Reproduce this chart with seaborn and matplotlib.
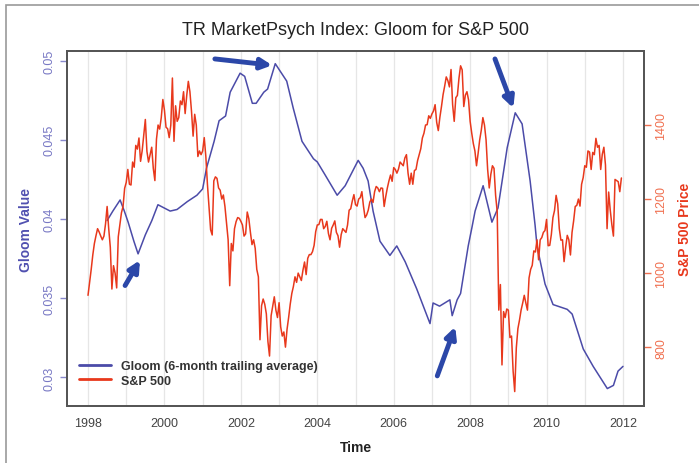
import numpy as np
import pandas as pd
import matplotlib.pyplot as plt
from matplotlib.lines import Line2D
from matplotlib.patches import Rectangle
import seaborn as sns

# Gloom (6-month trailing average)
gloom_time = [1998.50, 1998.65, 1998.84, 1998.95, 1999.05, 1999.20, 1999.31, 1999.50, 1999.67, 1999.83,
              2000.15, 2000.33, 2000.60, 2000.85, 2001.00, 2001.10, 2001.30, 2001.43, 2001.60, 2001.72,
              2001.98, 2002.10, 2002.30, 2002.40, 2002.60, 2002.70, 2002.90, 2003.20, 2003.37, 2003.60,
              2003.90, 2004.00, 2004.20, 2004.52, 2004.73, 2005.07, 2005.20, 2005.33, 2005.46, 2005.64,
              2005.90, 2006.08, 2006.30, 2006.60, 2006.95, 2007.03, 2007.20, 2007.47, 2007.53, 2007.66,
              2007.75, 2007.95, 2008.05, 2008.13, 2008.34, 2008.57, 2008.73, 2008.97, 2009.18, 2009.36,
              2009.57, 2009.70, 2009.75, 2009.96, 2010.17, 2010.54, 2010.67, 2010.96, 2011.22, 2011.59,
              2011.75, 2011.87, 2012.00]
gloom_value = [0.0399, 0.0405, 0.0412, 0.0405, 0.0398, 0.0386, 0.0378, 0.0390, 0.0399, 0.0409,
               0.0405, 0.0406, 0.0411, 0.0415, 0.0419, 0.0432, 0.0449, 0.0462, 0.0465, 0.0480,
               0.0492, 0.0490, 0.0473, 0.0473, 0.0480, 0.0482, 0.0498, 0.0487, 0.0470, 0.0449,
               0.0438, 0.0436, 0.0428, 0.0415, 0.0421, 0.0437, 0.0432, 0.0424, 0.0405, 0.0386,
               0.0377, 0.0383, 0.0373, 0.0356, 0.0334, 0.0347, 0.0345, 0.0349, 0.0339, 0.0349,
               0.0353, 0.0383, 0.0395, 0.0405, 0.0421, 0.0398, 0.0407, 0.0445, 0.0467, 0.0460,
               0.0424, 0.0396, 0.0383, 0.0359, 0.0346, 0.0343, 0.0340, 0.0318, 0.0307, 0.0293,
               0.0295, 0.0304, 0.0307]

# S&P 500, two readings per month
sp_by_year = {
    1998: [940, 975, 1010, 1049, 1080, 1101, 1120, 1111, 1100, 1090, 1100, 1133,
           1180, 1120, 1070, 957, 1020, 1000, 960, 1098, 1130, 1163, 1180, 1229],
    1999: [1245, 1280, 1240, 1238, 1300, 1286, 1345, 1335, 1365, 1302, 1330, 1373,
           1415, 1329, 1300, 1320, 1340, 1283, 1250, 1362, 1400, 1389, 1420, 1469],
    2000: [1440, 1394, 1390, 1366, 1400, 1527, 1356, 1452, 1410, 1420, 1465, 1455,
           1490, 1431, 1480, 1518, 1490, 1437, 1370, 1429, 1400, 1315, 1330, 1320],
    2001: [1330, 1366, 1315, 1240, 1180, 1117, 1103, 1249, 1260, 1256, 1230, 1224,
           1200, 1211, 1180, 1134, 1090, 966, 1080, 1060, 1120, 1139, 1150, 1148],
    2002: [1140, 1130, 1100, 1106, 1165, 1147, 1110, 1077, 1090, 1067, 1010, 990,
           820, 912, 930, 916, 890, 815, 776, 885, 910, 936, 900, 880],
    2003: [920, 855, 830, 841, 800, 848, 880, 916, 945, 964, 990, 975,
           1000, 990, 980, 1008, 1030, 996, 1040, 1050, 1050, 1058, 1075, 1112],
    2004: [1130, 1131, 1145, 1145, 1120, 1126, 1140, 1107, 1090, 1121, 1130, 1141,
           1110, 1101, 1070, 1104, 1120, 1115, 1110, 1130, 1170, 1174, 1195, 1212],
    2005: [1185, 1181, 1200, 1204, 1220, 1181, 1150, 1157, 1170, 1192, 1200, 1191,
           1220, 1234, 1230, 1220, 1230, 1229, 1180, 1207, 1230, 1249, 1265, 1248],
    2006: [1285, 1280, 1270, 1281, 1300, 1295, 1290, 1311, 1320, 1270, 1240, 1270,
           1240, 1277, 1280, 1304, 1320, 1336, 1365, 1378, 1400, 1401, 1425, 1418],
    2007: [1430, 1438, 1455, 1407, 1385, 1421, 1450, 1482, 1505, 1530, 1520, 1503,
           1550, 1455, 1410, 1474, 1480, 1527, 1560, 1549, 1450, 1481, 1490, 1468],
    2008: [1410, 1378, 1350, 1330, 1290, 1323, 1360, 1386, 1420, 1400, 1360, 1280,
           1230, 1267, 1290, 1283, 1210, 1166, 900, 969, 752, 896, 880, 903],
    2009: [900, 826, 830, 735, 680, 798, 850, 873, 900, 919, 940, 919,
           900, 987, 1010, 1021, 1060, 1057, 1090, 1036, 1090, 1096, 1110, 1115],
    2010: [1145, 1074, 1075, 1104, 1150, 1169, 1210, 1187, 1120, 1089, 1090, 1031,
           1070, 1102, 1090, 1049, 1110, 1141, 1180, 1183, 1200, 1181, 1240, 1258],
    2011: [1290, 1286, 1330, 1327, 1280, 1326, 1320, 1364, 1340, 1345, 1280, 1321,
           1340, 1292, 1120, 1219, 1170, 1131, 1100, 1253, 1250, 1247, 1220, 1257],
}

x_ticks = list(range(1998, 2013))
x_labels = [str(y) if y % 2 == 0 else "" for y in x_ticks]
gloom_ticks = [0.03, 0.035, 0.04, 0.045, 0.05]
gloom_labels = ["0.03", "0.035", "0.04", "0.045", "0.05"]
sp_ticks = [800, 1000, 1200, 1400]

# build frames
gloom = pd.DataFrame({"time": gloom_time, "gloom": gloom_value})
sp_rows = []
for yr, vals in sp_by_year.items():
    for i, v in enumerate(vals):
        sp_rows.append((yr + i / 24, v))
sp = pd.DataFrame(sp_rows, columns=["time", "price"])

blue = "#4b4ba8"
red = "#e8381c"

sns.set_style("white")
plt.rcParams['font.family'] = ['Liberation Sans', 'DejaVu Sans']

fig = plt.figure(figsize=(6.99, 4.64), dpi=100)
ax = fig.add_axes([67 / 699, 1 - 407 / 464, (644 - 67) / 699, (407 - 52) / 464])

for yr in x_ticks:
    ax.axvline(yr, color="#e6e6e6", lw=0.9, zorder=0)

sns.lineplot(data=gloom, x="time", y="gloom", ax=ax, color=blue, lw=1.1, zorder=3)
ax.set_xlim(1997.45, 2012.55)
ax.set_ylim(0.0282, 0.0506)

ax2 = ax.twinx()
sns.lineplot(data=sp, x="time", y="price", ax=ax2, color=red, lw=1.1, zorder=2)
ax2.set_ylim(641, 1600)

# axes styling
ax.set_xticks(x_ticks)
ax.set_xticklabels(x_labels, fontsize=9, color="#444444")
ax.set_yticks(gloom_ticks)
ax.set_yticklabels(gloom_labels, fontsize=9, color="#7878c4", rotation=90, va="center")
ax.tick_params(axis="x", length=5, width=1, color="#555555", direction="out", pad=3)
ax.tick_params(axis="y", length=5, width=1, color="#8888cc", direction="out", pad=3)
ax2.set_yticks(sp_ticks)
ax2.set_yticklabels([str(t) for t in sp_ticks], fontsize=9, color="#f07050", rotation=90, va="center")
ax2.tick_params(axis="y", length=5, width=1, color="#f07050", direction="out", pad=3)

for a in (ax, ax2):
    for s in a.spines.values():
        s.set_color("#555555")
        s.set_linewidth(1.3)

ax.set_xlabel("Time", fontsize=10, fontweight="bold", color="#222222", labelpad=8)
ax.set_ylabel("Gloom Value", fontsize=10, fontweight="bold", color="#5050b0", labelpad=8)
ax2.set_ylabel("S&P 500 Price", fontsize=10, fontweight="bold", color=red, labelpad=8)
ax.set_title("TR MarketPsych Index: Gloom for S&P 500", fontsize=13, color="#222222", pad=12)

# legend
handles = [Line2D([], [], color=blue, lw=2), Line2D([], [], color=red, lw=2)]
leg = ax2.legend(handles, ["Gloom (6-month trailing average)", "S&P 500"], loc="lower left",
                 bbox_to_anchor=(0.005, 0.03), frameon=False, fontsize=9, handlelength=2.6,
                 labelspacing=0.2, borderaxespad=0.3)
for t in leg.get_texts():
    t.set_fontweight("bold")
    t.set_color("#333333")

# highlight arrows
arrow = dict(arrowstyle="-|>", lw=3.5, color="#2b47a8", mutation_scale=16, shrinkA=0, shrinkB=0)
ax.annotate("", xy=(1999.36, 0.0374), xytext=(1998.97, 0.0358), arrowprops=arrow, zorder=5)
ax.annotate("", xy=(2002.82, 0.0497), xytext=(2001.32, 0.0501), arrowprops=arrow, zorder=5)
ax.annotate("", xy=(2007.61, 0.0332), xytext=(2007.14, 0.0301), arrowprops=arrow, zorder=5)
ax.annotate("", xy=(2009.13, 0.0470), xytext=(2008.65, 0.0501), arrowprops=arrow, zorder=5)

# figure border
fig.patches.append(Rectangle((6 / 699, -0.05), 1.1, 1 - 6 / 464 + 0.05, transform=fig.transFigure,
                             fill=False, edgecolor="#999999", lw=1.2))

fig.savefig("out.png", dpi=100)
